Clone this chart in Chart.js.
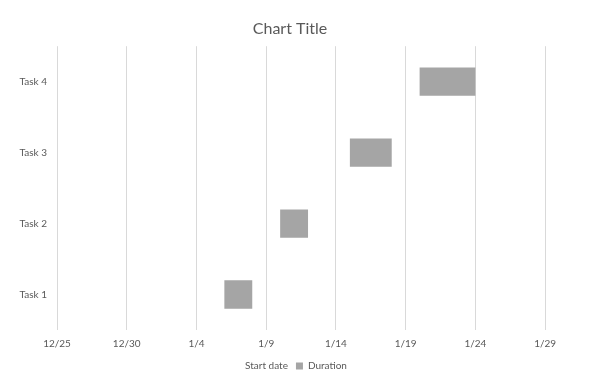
<!DOCTYPE html>
<html>
<head>
<meta charset="utf-8">
<script src="https://cdn.jsdelivr.net/npm/chart.js@4/dist/chart.umd.min.js"></script>
<style>
  html, body { margin: 0; padding: 0; background: #ffffff; }
  #wrap { width: 600px; height: 382px; position: relative; }
</style>
</head>
<body>
<div id="wrap"><canvas id="c" width="600" height="382"></canvas></div>
<script>
// ---- data ----
const tasks = ['Task 1', 'Task 2', 'Task 3', 'Task 4'];
const startDates = ['2018-01-06', '2018-01-10', '2018-01-15', '2018-01-20'];
const durations = [2, 2, 3, 4];
const axisStart = '2017-12-25';
const axisEndDays = 37.5;   // plot area extends a little past the last gridline (1/29)
const tickStepDays = 5;
const seriesNames = ['Start date', 'Duration'];

// ---- helpers ----
const DAY = 86400000;
function toDayNum(s) { const p = s.split('-').map(Number); return Date.UTC(p[0], p[1] - 1, p[2]) / DAY; }
function fmt(dayNum) { const d = new Date(dayNum * DAY); return (d.getUTCMonth() + 1) + '/' + d.getUTCDate(); }

const startNums = startDates.map(toDayNum);
const xMin = toDayNum(axisStart);
const xMax = xMin + axisEndDays;

const FONT = 'Lato, "Open Sans", sans-serif';
const TXT = '#595959';

new Chart(document.getElementById('c'), {
  type: 'bar',
  data: {
    labels: tasks,
    datasets: [
      { label: seriesNames[0], data: startNums, backgroundColor: 'rgba(0,0,0,0)', borderWidth: 0,
        categoryPercentage: 0.8, barPercentage: 0.5 },
      { label: seriesNames[1], data: durations, backgroundColor: '#a5a5a5', borderColor: '#a5a5a5', borderWidth: 0,
        categoryPercentage: 0.8, barPercentage: 0.5 }
    ]
  },
  options: {
    indexAxis: 'y',
    responsive: false,
    animation: false,
    devicePixelRatio: 1,
    layout: { padding: { left: 0, right: 20, top: 0, bottom: 1 } },
    scales: {
      x: {
        type: 'linear', stacked: true, min: xMin, max: xMax,
        grid: { color: '#d9d9d9', drawTicks: false, lineWidth: 1 },
        border: { display: false },
        ticks: { stepSize: tickStepDays, padding: 8, color: TXT, font: { family: FONT, size: 10 },
                 includeBounds: false,
                 callback: v => fmt(v), maxRotation: 0, autoSkip: false },
        afterFit: s => { s.height = 23; }
      },
      y: {
        stacked: true, reverse: true,
        grid: { display: false, drawTicks: false },
        border: { display: false },
        ticks: { padding: 10, color: TXT, font: { family: FONT, size: 10 } },
        afterFit: s => { s.width = 57; }
      }
    },
    plugins: {
      title: { display: true, text: 'Chart Title', color: TXT,
               font: { family: FONT, size: 16, weight: 'normal' }, padding: { top: 19, bottom: 8 } },
      legend: { position: 'bottom',
        labels: { color: TXT, font: { family: FONT, size: 10 }, boxWidth: 7, boxHeight: 7, padding: 8 } },
      tooltip: { enabled: false }
    }
  }
});
</script>
</body>
</html>
